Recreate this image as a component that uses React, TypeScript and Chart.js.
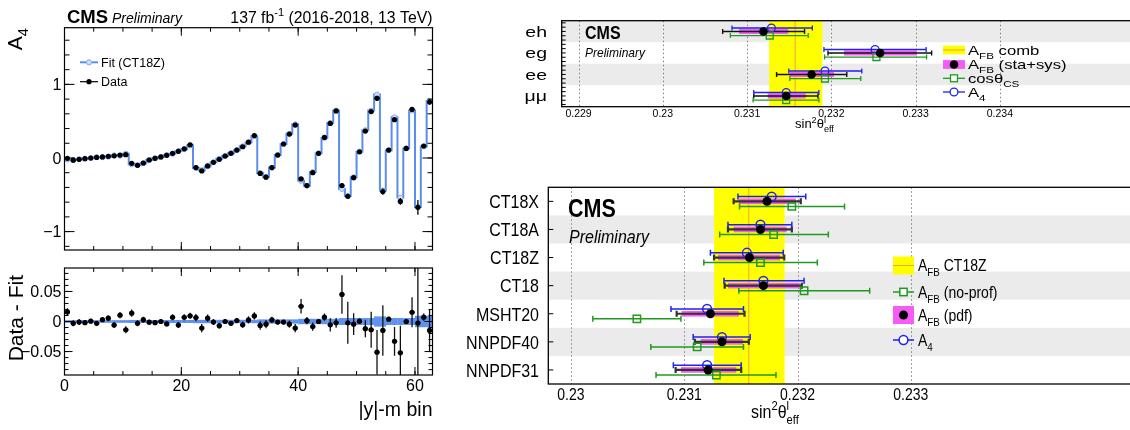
import React, { useEffect, useRef } from 'react';
import { Chart, registerables } from 'chart.js';

Chart.register(...registerables);

const FONT = "'Liberation Sans', Arial, Helvetica, sans-serif";

// ---------- A4 per |y|-m bin ----------
const binA4Data = [
  -0.005, -0.03, -0.018, -0.01, 0.0, 0.008, 0.014, 0.022, 0.03, 0.04, 0.045,
  -0.072, -0.1, -0.068, -0.027, -0.005, 0.014, 0.036, 0.063, 0.09, 0.125, 0.18,
  -0.13, -0.176, -0.108, -0.059, -0.018, 0.027, 0.063, 0.108, 0.153, 0.215, 0.305,
  -0.21, -0.26, -0.13, 0.04, 0.19, 0.325, 0.447,
  -0.285, -0.375, -0.2, 0.063, 0.28, 0.47, 0.64,
  -0.375, -0.52, -0.267, 0.085, 0.366, 0.63, 0.81,
  -0.456, 0.108, 0.52,
  -0.59, 0.13, 0.66,
  -0.67, 0.163, 0.76,
];
const binA4Fit = [
  -0.021, -0.027, -0.017, -0.008, -0.001, 0.011, 0.011, 0.017, 0.036, 0.03, 0.059,
  -0.086, -0.097, -0.071, -0.026, -0.003, 0.014, 0.04, 0.056, 0.096, 0.118, 0.171,
  -0.137, -0.165, -0.114, -0.058, -0.011, 0.027, 0.066, 0.106, 0.159, 0.212, 0.296,
  -0.203, -0.256, -0.133, 0.041, 0.191, 0.329, 0.458,
  -0.31, -0.376, -0.192, 0.063, 0.273, 0.476, 0.642,
  -0.42, -0.518, -0.263, 0.085, 0.378, 0.644, 0.861,
  -0.441, 0.104, 0.553,
  -0.538, 0.13, 0.645,
  -0.667, 0.156, 0.775,
];
const binDataErr = [
  0.006, 0.005, 0.005, 0.004, 0.004, 0.004, 0.004, 0.005, 0.005, 0.005, 0.006,
  0.006, 0.005, 0.005, 0.004, 0.004, 0.004, 0.004, 0.005, 0.005, 0.005, 0.005,
  0.006, 0.007, 0.006, 0.005, 0.005, 0.004, 0.004, 0.004, 0.005, 0.006, 0.006,
  0.007, 0.007, 0.005, 0.004, 0.004, 0.006, 0.007,
  0.012, 0.006, 0.007, 0.004, 0.006, 0.011, 0.008,
  0.032, 0.035, 0.018, 0.004, 0.014, 0.03, 0.037,
  0.042, 0.004, 0.024,
  0.045, 0.004, 0.025,
  0.1, 0.006, 0.035,
];
const binResidual = [
  0.016, -0.003, -0.001, -0.002, 0.0005, -0.003, 0.003, 0.0055, -0.006, 0.0105, -0.0137,
  0.0138, -0.003, 0.003, -0.0012, -0.002, 0.0, -0.004, 0.007, -0.006, 0.007, 0.0095,
  0.0066, -0.011, 0.0055, -0.001, -0.007, 0.0, -0.003, 0.0016, -0.0055, 0.0027, 0.0093,
  -0.0066, -0.0044, 0.0027, -0.001, -0.001, -0.0044, -0.011,
  0.0254, 0.0013, -0.0085, 0.0, 0.0072, -0.0055, -0.0022,
  0.045, -0.0022, -0.0044, 0.0005, -0.012, -0.0137, -0.051,
  -0.0148, 0.0038, -0.033,
  -0.052, 0.0, 0.0154,
  -0.0027, 0.0072, -0.0148,
];
const binFitBand = [
  0.0022, 0.0022, 0.0022, 0.0022, 0.0022, 0.0022, 0.0022, 0.0022, 0.0022, 0.0022, 0.0022,
  0.0025, 0.0025, 0.0025, 0.0025, 0.0025, 0.0025, 0.0025, 0.0025, 0.0025, 0.0025, 0.0025,
  0.0028, 0.0028, 0.0028, 0.0028, 0.0028, 0.0028, 0.0028, 0.0028, 0.0028, 0.0028, 0.0028,
  0.0035, 0.0035, 0.0035, 0.0035, 0.0035, 0.0035, 0.0035,
  0.0045, 0.0045, 0.0045, 0.0045, 0.0045, 0.0045, 0.0045,
  0.0058, 0.0058, 0.0058, 0.0058, 0.0058, 0.0058, 0.0085,
  0.0085, 0.0058, 0.0058,
  0.0058, 0.0058, 0.0058,
  0.0095, 0.0095, 0.0095,
];
const binTicks = [0, 20, 40, 60];
const binTickLabels = ['0', '20', '40', '60'];
const a4Ticks = [-1, 0, 1];
const a4TickLabels = ['\u22121', '0', '1'];
const resTicks = [-0.05, 0, 0.05];
const resTickLabels = ['\u22120.05', '0', '0.05'];

// ---------- sin2theta per channel ----------
const channels = ['eh', 'eg', 'ee', '\u03bc\u03bc'];
const chA4 = [0.231289, 0.232519, 0.231924, 0.231464];
const chA4Lo = [0.230821, 0.231912, 0.231495, 0.231079];
const chA4Hi = [0.231774, 0.233125, 0.232361, 0.231852];
const chAfb = [0.231194, 0.232579, 0.231765, 0.231464];
const chAfbLo = [0.23071, 0.23196, 0.23135, 0.231079];
const chAfbHi = [0.231682, 0.23319, 0.232183, 0.231841];
const chAfbBandLo = [0.230905, 0.23215, 0.231507, 0.231245];
const chAfbBandHi = [0.231488, 0.233015, 0.232031, 0.231694];
const chCos = [0.231269, 0.232535, 0.231924, 0.231464];
const chCosLo = [0.230801, 0.23192, 0.231507, 0.231071];
const chCosHi = [0.231726, 0.23313, 0.232349, 0.231852];
const chComb = 0.23157;
const chCombLo = 0.231262;
const chCombHi = 0.231893;
const chTicks = [0.229, 0.23, 0.231, 0.232, 0.233, 0.234];
const chTickLabels = ['0.229', '0.23', '0.231', '0.232', '0.233', '0.234'];

// ---------- sin2theta per PDF set ----------
const pdfSets = ['CT18X', 'CT18A', 'CT18Z', 'CT18', 'MSHT20', 'NNPDF40', 'NNPDF31'];
const pdfA4 = [0.231772, 0.231673, 0.231553, 0.231699, 0.231202, 0.231333, 0.231202];
const pdfA4Lo = [0.231474, 0.231386, 0.231231, 0.231351, 0.230883, 0.231079, 0.230904];
const pdfA4Hi = [0.232073, 0.23195, 0.231874, 0.232058, 0.231523, 0.231582, 0.231503];
const pdfAfb = [0.231731, 0.231673, 0.231576, 0.231699, 0.231231, 0.231333, 0.231211];
const pdfAfbLo = [0.231436, 0.231386, 0.231263, 0.231357, 0.230933, 0.231094, 0.230924];
const pdfAfbHi = [0.232029, 0.23195, 0.231883, 0.232038, 0.231532, 0.23157, 0.231503];
const pdfAfbBandLo = [0.231482, 0.231436, 0.231298, 0.231386, 0.230977, 0.231146, 0.230971];
const pdfAfbBandHi = [0.231985, 0.231904, 0.231845, 0.23202, 0.231482, 0.231518, 0.231459];
const pdfNoProf = [0.23195, 0.231789, 0.231673, 0.232058, 0.230582, 0.231114, 0.231284];
const pdfNoProfLo = [0.231488, 0.231313, 0.231173, 0.231482, 0.230193, 0.230705, 0.230751];
const pdfNoProfHi = [0.232415, 0.232272, 0.232175, 0.232637, 0.230971, 0.231523, 0.23181];
const pdfRef = 0.23157;
const pdfRefLo = 0.231263;
const pdfRefHi = 0.231886;
const pdfTicks = [0.23, 0.231, 0.232, 0.233];
const pdfTickLabels = ['0.23', '0.231', '0.232', '0.233'];

// ---------- colours ----------
const FIT_LINE = '#5b8def';
const FIT_FILL = '#d2e1fb';
const FIT_EDGE = '#80a8f2';
const BAND_BLUE = '#5f92ee';
const BLUE = '#2020f0';
const GREEN = '#1f9a1f';
const MAGENTA = '#f55cf5';
const YELLOW = '#ffff00';
const ORANGE = '#f4a03c';
const GRAY_ROW = '#ebebeb';

type Seg = { t: string; s?: 'sub' | 'sup'; k?: boolean };
type TOpt = { size: number; align?: 'left' | 'right' | 'center'; weight?: string; italic?: boolean; color?: string; sx?: number; sy?: number };

function fnt(o: TOpt, size: number) {
  return `${o.italic ? 'italic ' : ''}${o.weight || 'normal'} ${size}px ${FONT}`;
}
function segPx(o: TOpt, s: Seg) {
  return s.s ? o.size * 0.7 : o.size;
}
function richText(ctx: CanvasRenderingContext2D, segs: Seg[] | string, x: number, y: number, o: TOpt) {
  const list: Seg[] = typeof segs === 'string' ? [{ t: segs }] : segs;
  ctx.save();
  ctx.translate(x, y);
  ctx.scale(o.sx || 1, o.sy || 1);
  let w = 0;
  for (const s of list) {
    ctx.font = fnt(o, segPx(o, s));
    if (!s.k) w += ctx.measureText(s.t).width;
  }
  let cx = o.align === 'right' ? -w : o.align === 'center' ? -w / 2 : 0;
  ctx.fillStyle = o.color || '#000';
  ctx.textAlign = 'left';
  ctx.textBaseline = 'alphabetic';
  for (const s of list) {
    ctx.font = fnt(o, segPx(o, s));
    const dy = s.s === 'sub' ? o.size * 0.3 : s.s === 'sup' ? -o.size * 0.42 : 0;
    ctx.fillText(s.t, cx, dy);
    if (!s.k) cx += ctx.measureText(s.t).width;
  }
  ctx.restore();
}
// text vertically centred on yc
function midText(ctx: CanvasRenderingContext2D, segs: Seg[] | string, x: number, yc: number, o: TOpt) {
  richText(ctx, segs, x, yc + o.size * 0.36 * (o.sy || 1), o);
}
function vertText(ctx: CanvasRenderingContext2D, segs: Seg[] | string, xBase: number, yEnd: number, o: TOpt) {
  ctx.save();
  ctx.translate(xBase, yEnd);
  ctx.rotate(-Math.PI / 2);
  richText(ctx, segs, 0, 0, { ...o, align: 'right' });
  ctx.restore();
}

function steps(lo: number, hi: number, step: number) {
  const out: number[] = [];
  const n = Math.round((hi - lo) / step);
  for (let k = 0; k <= n; k++) out.push(lo + k * step);
  return out;
}
function clipArea(ctx: CanvasRenderingContext2D, a: any) {
  ctx.beginPath();
  ctx.rect(a.left, a.top, a.right - a.left, a.bottom - a.top);
  ctx.clip();
}
function frame(ctx: CanvasRenderingContext2D, a: any, lw = 1.2) {
  ctx.save();
  ctx.strokeStyle = '#000';
  ctx.lineWidth = lw;
  ctx.strokeRect(a.left, a.top, a.right - a.left, a.bottom - a.top);
  ctx.restore();
}
function ticksX(ctx: CanvasRenderingContext2D, c: any, vals: number[], len: number, top = true) {
  const a = c.chartArea;
  const sc = c.scales.x;
  ctx.save();
  ctx.strokeStyle = '#000';
  ctx.lineWidth = 1;
  ctx.beginPath();
  for (const v of vals) {
    const p = sc.getPixelForValue(v);
    if (p < a.left - 0.5 || p > a.right + 0.5) continue;
    ctx.moveTo(p, a.bottom);
    ctx.lineTo(p, a.bottom - len);
    if (top) {
      ctx.moveTo(p, a.top);
      ctx.lineTo(p, a.top + len);
    }
  }
  ctx.stroke();
  ctx.restore();
}
function ticksY(ctx: CanvasRenderingContext2D, c: any, vals: number[], len: number, right = true) {
  const a = c.chartArea;
  const sc = c.scales.y;
  ctx.save();
  ctx.strokeStyle = '#000';
  ctx.lineWidth = 1;
  ctx.beginPath();
  for (const v of vals) {
    const p = sc.getPixelForValue(v);
    if (p < a.top - 0.5 || p > a.bottom + 0.5) continue;
    ctx.moveTo(a.left, p);
    ctx.lineTo(a.left + len, p);
    if (right) {
      ctx.moveTo(a.right, p);
      ctx.lineTo(a.right - len, p);
    }
  }
  ctx.stroke();
  ctx.restore();
}
function hBar(ctx: CanvasRenderingContext2D, x0: number, x1: number, y: number, cap: number, color: string, lw: number) {
  ctx.strokeStyle = color;
  ctx.lineWidth = lw;
  ctx.beginPath();
  ctx.moveTo(x0, y);
  ctx.lineTo(x1, y);
  ctx.moveTo(x0, y - cap);
  ctx.lineTo(x0, y + cap);
  ctx.moveTo(x1, y - cap);
  ctx.lineTo(x1, y + cap);
  ctx.stroke();
}
function circle(ctx: CanvasRenderingContext2D, x: number, y: number, r: number, fill: string | null, stroke: string | null, lw = 1) {
  ctx.beginPath();
  ctx.arc(x, y, r, 0, Math.PI * 2);
  if (fill) {
    ctx.fillStyle = fill;
    ctx.fill();
  }
  if (stroke) {
    ctx.strokeStyle = stroke;
    ctx.lineWidth = lw;
    ctx.stroke();
  }
}

const baseOpts = (pad: any, x: any, y: any) => ({
  responsive: false,
  maintainAspectRatio: false,
  animation: false as const,
  events: [] as any[],
  layout: { padding: pad },
  plugins: { legend: { display: false }, tooltip: { enabled: false } },
  scales: {
    x: { type: 'linear', display: false, ...x },
    y: { type: 'linear', display: false, ...y },
  },
});

// ---------- top-left: A4 versus bin ----------
function makeA4Chart(canvas: HTMLCanvasElement) {
  const dataPts = binA4Data.map((v, i) => ({ x: i + 0.5, y: v }));
  const fitPts = binA4Fit.map((v, i) => ({ x: i + 0.5, y: v }));
  const fitStep = binA4Fit.flatMap((v, i) => [{ x: i, y: v }, { x: i + 1, y: v }]);
  return new Chart(canvas, {
    type: 'scatter',
    data: {
      datasets: [
        { data: dataPts, pointRadius: 2.6, pointBackgroundColor: '#000', pointBorderColor: '#000', pointBorderWidth: 0, order: 0 } as any,
        { data: fitPts, pointRadius: 2.5, pointBackgroundColor: FIT_FILL, pointBorderColor: FIT_EDGE, pointBorderWidth: 1, order: 1 },
        { type: 'line', data: fitStep, borderColor: FIT_LINE, borderWidth: 2, pointRadius: 0, tension: 0, fill: false, order: 2 },
      ],
    },
    options: baseOpts({ left: 64.5, right: 12.5, top: 27.7, bottom: 6 }, { min: 0, max: 63 }, { min: -1.25, max: 1.77 }) as any,
    plugins: [
      {
        id: 'a4Bars',
        beforeDatasetDraw(c: any, args: any) {
          if (args.index !== 0) return;
          const ctx = c.ctx, a = c.chartArea, xs = c.scales.x, ys = c.scales.y;
          ctx.save();
          clipArea(ctx, a);
          ctx.strokeStyle = '#000';
          ctx.lineWidth = 1.3;
          ctx.beginPath();
          binA4Data.forEach((v, i) => {
            const px = xs.getPixelForValue(i + 0.5);
            const py = ys.getPixelForValue(v);
            ctx.moveTo(px, ys.getPixelForValue(v - binDataErr[i]));
            ctx.lineTo(px, ys.getPixelForValue(v + binDataErr[i]));
            ctx.moveTo(px - 2.6, py);
            ctx.lineTo(px + 2.6, py);
          });
          ctx.stroke();
          ctx.restore();
        },
        afterDraw(c: any) {
          const ctx = c.ctx, a = c.chartArea, ys = c.scales.y;
          ticksX(ctx, c, steps(0, 60, 5), 4);
          ticksX(ctx, c, binTicks, 8);
          ticksY(ctx, c, steps(-1.2, 1.6, 0.2), 5);
          ticksY(ctx, c, a4Ticks, 10);
          frame(ctx, a);
          a4Ticks.forEach((v, i) => midText(ctx, a4TickLabels[i], a.left - 3, ys.getPixelForValue(v), { size: 16, align: 'right' }));
          richText(ctx, 'CMS', 67, 22.5, { size: 18.5, weight: 'bold' });
          richText(ctx, 'Preliminary', 112, 22.5, { size: 14, italic: true });
          richText(ctx, [{ t: '137 fb' }, { t: '-1', s: 'sup' }, { t: ' (2016-2018, 13 TeV)' }], 432.5, 22.5, { size: 15.8, align: 'right' });
          vertText(ctx, [{ t: 'A' }, { t: '4', s: 'sub' }], 21.5, 28, { size: 21 });
          // legend
          ctx.save();
          ctx.strokeStyle = FIT_LINE;
          ctx.lineWidth = 2;
          ctx.beginPath();
          ctx.moveTo(80, 62.3);
          ctx.lineTo(98, 62.3);
          ctx.stroke();
          circle(ctx, 89, 62.3, 2.6, FIT_FILL, FIT_EDGE, 1);
          ctx.strokeStyle = '#000';
          ctx.lineWidth = 1.2;
          ctx.beginPath();
          ctx.moveTo(80, 81.7);
          ctx.lineTo(98, 81.7);
          ctx.stroke();
          circle(ctx, 89, 81.7, 2.6, '#000', null);
          ctx.restore();
          midText(ctx, 'Fit (CT18Z)', 101, 62.3, { size: 12.5 });
          midText(ctx, 'Data', 101, 81.7, { size: 12.5 });
        },
      },
    ],
  });
}

// ---------- bottom-left: Data - Fit ----------
function makeResidualChart(canvas: HTMLCanvasElement) {
  const pts = binResidual.map((v, i) => ({ x: i + 0.5, y: v }));
  return new Chart(canvas, {
    type: 'scatter',
    data: { datasets: [{ data: pts, pointRadius: 2.6, pointBackgroundColor: '#000', pointBorderColor: '#000', pointBorderWidth: 0 }] },
    options: baseOpts({ left: 64.5, right: 12.5, top: 12, bottom: 55 }, { min: 0, max: 63 }, { min: -0.089, max: 0.089 }) as any,
    plugins: [
      {
        id: 'resDecor',
        beforeDatasetsDraw(c: any) {
          const ctx = c.ctx, a = c.chartArea, xs = c.scales.x, ys = c.scales.y;
          ctx.save();
          clipArea(ctx, a);
          ctx.fillStyle = BAND_BLUE;
          binFitBand.forEach((e, i) => {
            const x0 = xs.getPixelForValue(i), x1 = xs.getPixelForValue(i + 1);
            const y0 = ys.getPixelForValue(e), y1 = ys.getPixelForValue(-e);
            ctx.fillRect(x0, y0, x1 - x0 + 0.3, y1 - y0);
          });
          ctx.strokeStyle = '#111';
          ctx.lineWidth = 1.3;
          ctx.beginPath();
          binResidual.forEach((v, i) => {
            const px = xs.getPixelForValue(i + 0.5);
            const py = ys.getPixelForValue(v);
            ctx.moveTo(px, ys.getPixelForValue(v - binDataErr[i]));
            ctx.lineTo(px, ys.getPixelForValue(v + binDataErr[i]));
            ctx.moveTo(px - 2.6, py);
            ctx.lineTo(px + 2.6, py);
          });
          ctx.stroke();
          ctx.restore();
        },
        afterDraw(c: any) {
          const ctx = c.ctx, a = c.chartArea, xs = c.scales.x, ys = c.scales.y;
          ticksX(ctx, c, steps(0, 60, 5), 4);
          ticksX(ctx, c, binTicks, 8);
          ticksY(ctx, c, steps(-0.08, 0.08, 0.01), 4);
          ticksY(ctx, c, resTicks, 8);
          frame(ctx, a);
          resTicks.forEach((v, i) => midText(ctx, resTickLabels[i], a.left - 3, ys.getPixelForValue(v), { size: 16, align: 'right' }));
          binTicks.forEach((v, i) => midText(ctx, binTickLabels[i], xs.getPixelForValue(v), 129, { size: 16, align: 'center' }));
          richText(ctx, '|y|-m bin', 432.5, 160, { size: 19.5, align: 'right' });
          vertText(ctx, 'Data - Fit', 23, 19, { size: 21 });
        },
      },
    ],
  });
}

// ---------- right: sin2theta comparisons ----------
type CmpData = {
  rows: string[];
  a4: number[]; a4Lo: number[]; a4Hi: number[];
  afb: number[]; afbLo: number[]; afbHi: number[]; bandLo: number[]; bandHi: number[];
  alt: number[]; altLo: number[]; altHi: number[];
  ref: number; refLo: number; refHi: number;
  ticks: number[]; tickLabels: string[];
  min: number; max: number;
};
type LegendItem = { kind: 'yellow' | 'magenta' | 'green' | 'blue'; label: Seg[] };

function makeCompareChart(canvas: HTMLCanvasElement, d: CmpData, L: any) {
  const pts = (vals: number[], off: number) => vals.map((v, i) => ({ x: v, y: i + off }));
  const n = d.rows.length;
  return new Chart(canvas, {
    type: 'scatter',
    data: {
      datasets: [
        { data: pts(d.afb, 0), pointRadius: L.rBlack, pointBackgroundColor: '#000', pointBorderColor: '#000', pointBorderWidth: 0 },
        { data: pts(d.alt, L.offAlt), pointStyle: 'rect', pointRadius: L.rSq, pointBackgroundColor: 'rgba(0,0,0,0)', pointBorderColor: GREEN, pointBorderWidth: L.lw },
        { data: pts(d.a4, L.offA4), pointRadius: L.rBlue, pointBackgroundColor: 'rgba(0,0,0,0)', pointBorderColor: BLUE, pointBorderWidth: L.lw },
      ],
    },
    options: baseOpts(L.pad, { min: d.min, max: d.max }, { min: -0.5, max: n - 0.5, reverse: true }) as any,
    plugins: [
      {
        id: 'cmpUnder',
        beforeDatasetsDraw(c: any) {
          const ctx = c.ctx, a = c.chartArea, xs = c.scales.x, ys = c.scales.y;
          ctx.save();
          clipArea(ctx, a);
          ctx.fillStyle = GRAY_ROW;
          for (let i = 0; i < n; i++) {
            if (i % 2 !== L.grayParity) continue;
            const y0 = ys.getPixelForValue(i - 0.5), y1 = ys.getPixelForValue(i + 0.5);
            ctx.fillRect(a.left, y0, a.right - a.left, y1 - y0);
          }
          ctx.strokeStyle = '#808080';
          ctx.lineWidth = 1;
          ctx.setLineDash([1.5, 2.5]);
          ctx.beginPath();
          for (const t of d.ticks) {
            const p = Math.round(xs.getPixelForValue(t)) + 0.5;
            ctx.moveTo(p, a.top);
            ctx.lineTo(p, a.bottom);
          }
          ctx.stroke();
          ctx.setLineDash([]);
          const b0 = xs.getPixelForValue(d.refLo), b1 = xs.getPixelForValue(d.refHi);
          ctx.fillStyle = YELLOW;
          ctx.fillRect(b0, a.top, b1 - b0, a.bottom - a.top);
          ctx.strokeStyle = ORANGE;
          ctx.lineWidth = 1;
          ctx.beginPath();
          ctx.moveTo(xs.getPixelForValue(d.ref), a.top);
          ctx.lineTo(xs.getPixelForValue(d.ref), a.bottom);
          ctx.stroke();
          ctx.fillStyle = MAGENTA;
          for (let i = 0; i < n; i++) {
            const x0 = xs.getPixelForValue(d.bandLo[i]), x1 = xs.getPixelForValue(d.bandHi[i]);
            const yc = ys.getPixelForValue(i);
            ctx.fillRect(x0, yc - L.bandHalf, x1 - x0, 2 * L.bandHalf);
          }
          for (let i = 0; i < n; i++) {
            hBar(ctx, xs.getPixelForValue(d.afbLo[i]), xs.getPixelForValue(d.afbHi[i]), ys.getPixelForValue(i), L.cap, L.blackBar, L.blackLw);
            hBar(ctx, xs.getPixelForValue(d.altLo[i]), xs.getPixelForValue(d.altHi[i]), ys.getPixelForValue(i + L.offAlt), L.cap, GREEN, L.lw);
            hBar(ctx, xs.getPixelForValue(d.a4Lo[i]), xs.getPixelForValue(d.a4Hi[i]), ys.getPixelForValue(i + L.offA4), L.cap, BLUE, L.lw);
          }
          ctx.restore();
        },
        afterDraw(c: any) {
          const ctx = c.ctx, a = c.chartArea, xs = c.scales.x, ys = c.scales.y;
          // left-edge ticks
          const tv: number[] = [];
          for (let i = 0; i < n; i++) for (const f of L.rowTickFrac) tv.push(i + f);
          ticksY(ctx, c, tv, L.rowTickLen, false);
          frame(ctx, a, 1.3);
          d.rows.forEach((r, i) => midText(ctx, r, L.rowLabelRight, ys.getPixelForValue(i), { size: L.rowSize, align: 'right', sx: L.rowSx, sy: L.sy }));
          d.ticks.forEach((t, i) => midText(ctx, d.tickLabels[i], xs.getPixelForValue(t), L.tickY, { size: L.tickSize, align: 'center', sy: L.sy }));
          richText(
            ctx,
            [{ t: 'sin' }, { t: '2', s: 'sup' }, { t: '\u03b8' }, { t: 'l', s: 'sup', k: true }, { t: 'eff', s: 'sub' }],
            L.titleX, L.titleY, { size: L.titleSize, sy: L.sy },
          );
          richText(ctx, 'CMS', L.cmsX, L.cmsY, { size: L.cmsSize, weight: 'bold', sy: L.cmsSy });
          richText(ctx, 'Preliminary', L.prelimX, L.prelimY, { size: L.prelimSize, italic: true, sy: L.cmsSy });
          // legend
          const lg = L.legend;
          const xc = (lg.x0 + lg.x1) / 2;
          (lg.items as LegendItem[]).forEach((it, k) => {
            const y = lg.ys[k];
            ctx.save();
            if (it.kind === 'yellow') {
              ctx.fillStyle = YELLOW;
              ctx.fillRect(lg.x0, y - lg.boxHalf, lg.x1 - lg.x0, 2 * lg.boxHalf);
              ctx.strokeStyle = ORANGE;
              ctx.lineWidth = 1;
              ctx.beginPath();
              ctx.moveTo(lg.x0, y);
              ctx.lineTo(lg.x1, y);
              ctx.stroke();
            } else if (it.kind === 'magenta') {
              ctx.fillStyle = MAGENTA;
              ctx.fillRect(lg.x0, y - lg.boxHalf, lg.x1 - lg.x0, 2 * lg.boxHalf);
              circle(ctx, xc, y, L.rBlack, '#000', null);
            } else if (it.kind === 'green') {
              ctx.strokeStyle = GREEN;
              ctx.lineWidth = L.lw;
              ctx.beginPath();
              ctx.moveTo(lg.x0, y);
              ctx.lineTo(lg.x1, y);
              ctx.stroke();
              const h = L.rSq * Math.SQRT1_2;
              ctx.fillStyle = '#fff';
              ctx.fillRect(xc - h, y - h, 2 * h, 2 * h);
              ctx.strokeRect(xc - h, y - h, 2 * h, 2 * h);
            } else {
              ctx.strokeStyle = BLUE;
              ctx.lineWidth = L.lw;
              ctx.beginPath();
              ctx.moveTo(lg.x0, y);
              ctx.lineTo(lg.x1, y);
              ctx.stroke();
              circle(ctx, xc, y, L.rBlue, '#fff', BLUE, L.lw);
            }
            ctx.restore();
            midText(ctx, it.label, lg.textX, y, { size: lg.size, sx: lg.sx, sy: L.sy });
          });
        },
      },
    ],
  });
}

const AFB: Seg[] = [{ t: 'A' }, { t: 'FB', s: 'sub' }];

const channelData: CmpData = {
  rows: channels,
  a4: chA4, a4Lo: chA4Lo, a4Hi: chA4Hi,
  afb: chAfb, afbLo: chAfbLo, afbHi: chAfbHi, bandLo: chAfbBandLo, bandHi: chAfbBandHi,
  alt: chCos, altLo: chCosLo, altHi: chCosHi,
  ref: chComb, refLo: chCombLo, refHi: chCombHi,
  ticks: chTicks, tickLabels: chTickLabels,
  min: 0.2288, max: 0.2359,
};
const channelLayout = {
  pad: { left: 121.7, top: 20.7, right: 20, bottom: 33.3 },
  grayParity: 0,
  rBlack: 4.3, rBlue: 3.9, rSq: 4.9, lw: 1.3, blackLw: 1.4, blackBar: '#111',
  bandHalf: 2.6, cap: 2.5, offA4: -0.16, offAlt: 0.19,
  rowTickFrac: [-0.4, -0.2, 0, 0.2, 0.4], rowTickLen: 4,
  rowLabelRight: 107, rowSize: 15, rowSx: 1.3, tickY: 113, tickSize: 10.5,
  titleX: 355, titleY: 128, titleSize: 13,
  cmsX: 145, cmsY: 39.3, cmsSize: 16, prelimX: 145, prelimY: 57, prelimSize: 12, cmsSy: 1.1,
  sy: 1,
  legend: {
    x0: 503, x1: 525, textX: 528, size: 13, sx: 1.28, boxHalf: 4.4,
    ys: [50, 64.5, 78.3, 92],
    items: [
      { kind: 'yellow', label: [...AFB, { t: ' comb' }] },
      { kind: 'magenta', label: [...AFB, { t: ' (sta+sys)' }] },
      { kind: 'green', label: [{ t: 'cos\u03b8' }, { t: 'CS', s: 'sub' }] },
      { kind: 'blue', label: [{ t: 'A' }, { t: '4', s: 'sub' }] },
    ],
  },
};

const pdfData: CmpData = {
  rows: pdfSets,
  a4: pdfA4, a4Lo: pdfA4Lo, a4Hi: pdfA4Hi,
  afb: pdfAfb, afbLo: pdfAfbLo, afbHi: pdfAfbHi, bandLo: pdfAfbBandLo, bandHi: pdfAfbBandHi,
  alt: pdfNoProf, altLo: pdfNoProfLo, altHi: pdfNoProfHi,
  ref: pdfRef, refLo: pdfRefLo, refHi: pdfRefHi,
  ticks: pdfTicks, tickLabels: pdfTickLabels,
  min: 0.2298, max: 0.2352,
};
const pdfLayout = {
  pad: { left: 108.3, top: 7.3, right: 20, bottom: 46 },
  grayParity: 1,
  rBlack: 4.5, rBlue: 4.4, rSq: 5.2, lw: 1.5, blackLw: 2.2, blackBar: '#333',
  bandHalf: 2.8, cap: 3, offA4: -0.17, offAlt: 0.18,
  rowTickFrac: [0], rowTickLen: 5,
  rowLabelRight: 99, rowSize: 16, rowSx: 1, tickY: 214, tickSize: 14,
  titleX: 311, titleY: 238, titleSize: 16,
  cmsX: 128, cmsY: 37, cmsSize: 21.5, prelimX: 129, prelimY: 63, prelimSize: 16, cmsSy: 1.18,
  sy: 1.18,
  legend: {
    x0: 453, x1: 474, textX: 478, size: 14, sx: 1, boxHalf: 9,
    ys: [85.5, 112, 135, 160],
    items: [
      { kind: 'yellow', label: [...AFB, { t: ' CT18Z' }] },
      { kind: 'green', label: [...AFB, { t: ' (no-prof)' }] },
      { kind: 'magenta', label: [...AFB, { t: ' (pdf)' }] },
      { kind: 'blue', label: [{ t: 'A' }, { t: '4', s: 'sub' }] },
    ],
  },
};

function Panel({ left, top, width, height, build }: { left: number; top: number; width: number; height: number; build: (c: HTMLCanvasElement) => Chart }) {
  const ref = useRef<HTMLCanvasElement | null>(null);
  useEffect(() => {
    if (!ref.current) return;
    const chart = build(ref.current);
    return () => chart.destroy();
  }, [build]);
  return (
    <canvas
      ref={ref}
      width={width}
      height={height}
      style={{ position: 'absolute', left, top, width, height, display: 'block' }}
    />
  );
}

const buildChannels = (c: HTMLCanvasElement) => makeCompareChart(c, channelData, channelLayout);
const buildPdf = (c: HTMLCanvasElement) => makeCompareChart(c, pdfData, pdfLayout);

export default function App() {
  return (
    <div style={{ position: 'fixed', left: 0, top: 0, width: 1130, height: 430, overflow: 'hidden', background: '#fff' }}>
      <Panel left={0} top={0} width={445} height={256} build={makeA4Chart} />
      <Panel left={0} top={256} width={445} height={174} build={makeResidualChart} />
      <Panel left={440} top={0} width={740} height={140} build={buildChannels} />
      <Panel left={440} top={180} width={740} height={250} build={buildPdf} />
    </div>
  );
}
